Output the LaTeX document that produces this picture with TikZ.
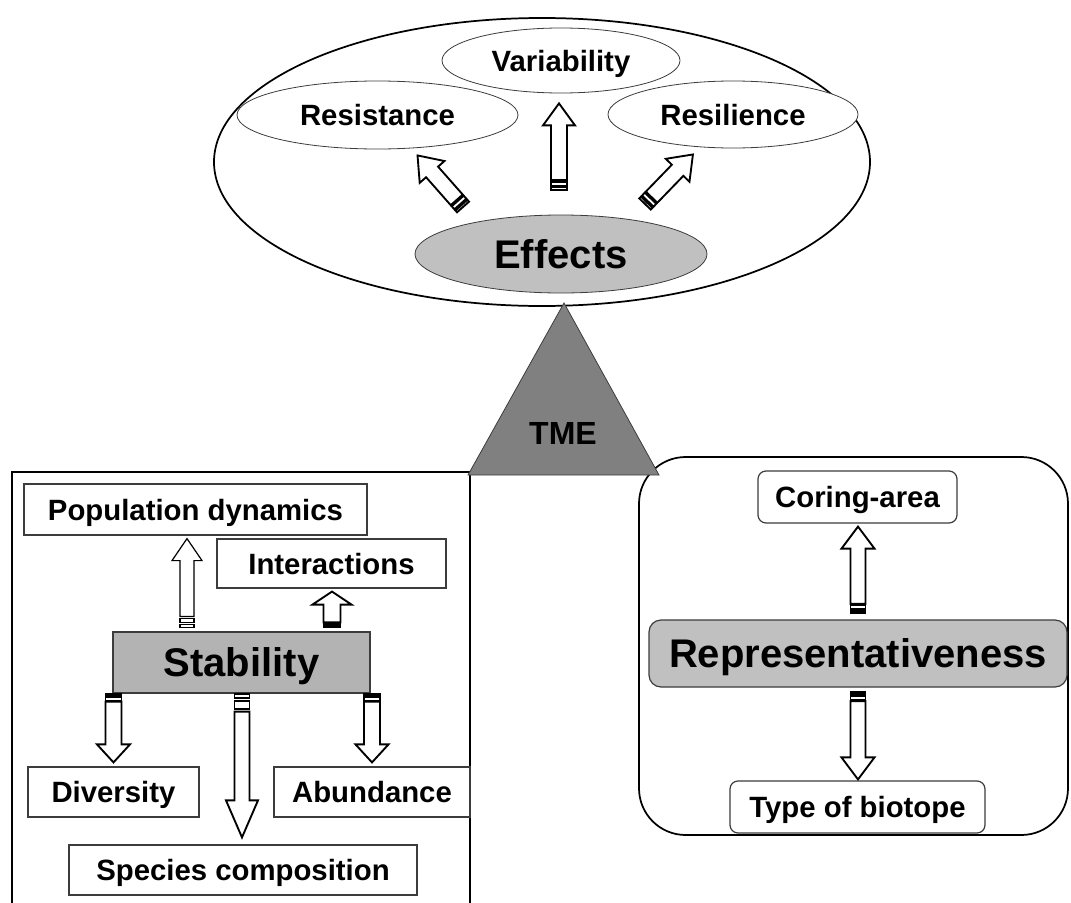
\documentclass[tikz,border=0pt]{standalone}
\usepackage{fontspec}
\setmainfont{Liberation Sans}
\usetikzlibrary{shapes.geometric,calc}

\definecolor{effgray}{HTML}{C0C0C0}
\definecolor{stabgray}{HTML}{B3B3B3}
\definecolor{tmegray}{HTML}{808080}
\definecolor{edgegray}{HTML}{3C3C3C}

\tikzset{
  sz/.style 2 args={minimum width=#1*0.75pt, minimum height=#2*0.75pt},
  lbl/.style={font=\fontsize{22}{26}\selectfont\bfseries, inner sep=0pt,
              text height=15.8pt, text depth=0pt},
  bigl/.style={font=\fontsize{30}{34}\selectfont\bfseries, inner sep=0pt,
               text height=21.5pt, text depth=0pt},
  oval/.style={ellipse, draw=edgegray, line width=0.6pt, fill=white},
  box/.style={rectangle, draw=edgegray, line width=0.9pt, fill=white},
  rbox/.style={box, rounded corners=6pt},
  frame/.style={draw=black, line width=1.3pt},
  sarr/.style={draw=black, fill=white, line width=1.4pt, line join=miter},
}

% Striped block arrow from a tail point to a tip point.
% #1 extra style, #2 tail, #3 tip, #4 shaft half width, #5 head half width,
% #6 head length, #7 first stripe, #8 gap, #9 second stripe (all in px)
\newcommand\sarrow[9][]{%
  \path let \p1=#2, \p2=#3 in \pgfextra{%
    \pgfmathsetmacro\sarrowang{atan2(\y2-\y1,\x2-\x1)}%
    \pgfmathsetmacro\sarrowlen{veclen(\x2-\x1,\y2-\y1)/0.75}%
    \xdef\sarrowang{\sarrowang}\xdef\sarrowlen{\sarrowlen}};
  \begin{scope}[shift={#2}, rotate=\sarrowang, x=0.75pt, y=0.75pt]
    \pgfmathsetmacro\sbA{#7+#8}
    \pgfmathsetmacro\sbB{#7+#8+#9}
    \pgfmathsetmacro\sbC{#7+2*#8+#9}
    \pgfmathsetmacro\sbD{\sarrowlen-#6}
    \draw[sarr,#1] (0,-#4) rectangle (#7,#4);
    \draw[sarr,#1] (\sbA,-#4) rectangle (\sbB,#4);
    \draw[sarr,#1] (\sbC,-#4) -- (\sbD,-#4) -- (\sbD,-#5) -- (\sarrowlen,0)
      -- (\sbD,#5) -- (\sbD,#4) -- (\sbC,#4) -- cycle;
  \end{scope}}

\begin{document}
\begin{tikzpicture}[x=0.75pt, y=-0.75pt]
\useasboundingbox (0,0) rectangle (1071,903);
\clip (0,0) rectangle (1071,903);

% ---- effects cluster ----
\node[oval, draw=black, line width=1.3pt, sz={656}{288}] (whole) at (542,162) {};
\node[oval, sz={238}{65}, lbl] (var) at (561,60.5) {Variability};
\node[oval, sz={281}{68}, lbl] (res) at (377.5,115) {Resistance};
\node[oval, sz={250}{67}, lbl] (resil) at (733,114.5) {Resilience};
\node[oval, fill=effgray, sz={292}{78}, bigl] (eff) at (561,254) {Effects};

% ---- left frame: stability ----
\draw[frame] (12,472) rectangle (470,915);
\node[box, sz={343}{51}, lbl] (pop) at (195.5,509.5) {Population dynamics};
\node[box, sz={229}{49}, lbl] (inter) at (331.5,563.5) {Interactions};
\node[box, fill=stabgray, sz={257}{61}, bigl] (stab) at (241.5,662.5) {Stability};
\node[box, sz={171}{50}, lbl] (div) at (113.5,792) {Diversity};
\node[box, sz={196}{50}, lbl] (abund) at (372,792) {Abundance};
\node[box, sz={348}{50}, lbl] (spec) at (243,870) {Species composition};

% ---- right frame: representativeness ----
\draw[frame, rounded corners=35pt] (639,457) rectangle (1068,835);
\node[rbox, sz={199}{52}, lbl] (coring) at (857.5,497) {Coring-area};
\node[rbox, fill=effgray, rounded corners=9pt, sz={418}{67}, bigl] (repr) at (858,653.5) {Representativeness};
\node[rbox, sz={255}{52}, lbl] (biot) at (857.5,807) {Type of biotope};

% ---- central triangle ----
\path[fill=tmegray, draw=edgegray, line width=0.6pt] (564,303) -- (659,475) -- (468,475) -- cycle;
\node[font=\fontsize{24}{28}\selectfont\bfseries, inner sep=0pt,
      text height=17.2pt, text depth=0pt] (tme) at (563,433) {TME};

% ---- striped arrows ----
\sarrow{($(eff.north)+(-2,-25)$)}{($(var.south)+(-2,10)$)}{8}{16}{22}{2.5}{1.5}{4}
\sarrow{($(eff.center)+(-98,-47)$)}{($(res.south)+(40,6)$)}{8}{16.5}{22}{2.5}{1.5}{4}
\sarrow{($(eff.center)+(84,-50)$)}{($(resil.south)+(-40,6)$)}{8}{16.5}{22}{2.5}{1.5}{4}

\sarrow[line width=0.9pt]{($(stab.north)+(-54.5,-4)$)}{($(pop.south)+(-8.5,3)$)}{7}{15}{22}{3}{2}{4}
\sarrow{($(stab.north)+(90.5,-4)$)}{($(inter.south)+(0.5,3)$)}{8.5}{19.5}{13}{2}{0.5}{2}
\sarrow{(stab.south -| div.north)}{($(div.north)+(0,-4)$)}{8}{16.5}{18}{2.5}{1}{3.5}
\sarrow{($(stab.south)+(0.5,0)$)}{($(spec.north)+(-1,-7)$)}{7.5}{16}{37}{4}{3}{8}
\sarrow{(stab.south -| abund.north)}{($(abund.north)+(0,-4)$)}{8}{16.5}{18}{2.5}{1}{3.5}

\sarrow{($(repr.north)+(0,-6)$)}{($(coring.south)+(0.5,3)$)}{7.5}{16.5}{22}{2.5}{1.5}{4}
\sarrow{($(repr.south)+(0,4)$)}{($(biot.north)+(0.5,-1)$)}{7.5}{16.5}{22}{2.5}{1.5}{4}
\end{tikzpicture}
\end{document}
